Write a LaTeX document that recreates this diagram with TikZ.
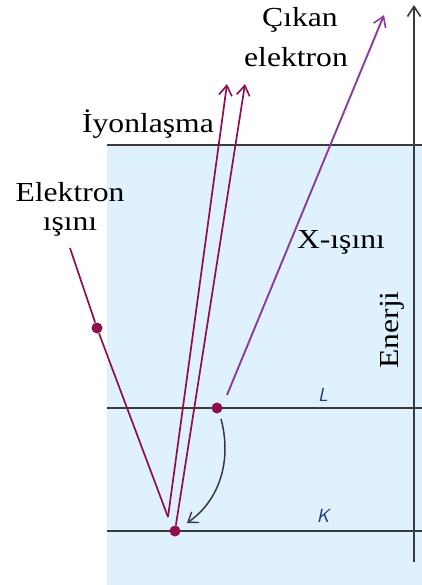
\documentclass[tikz,border=0pt]{standalone}
\usepackage{xcolor}
\usepackage{fontspec}
\setmainfont[FakeStretch=1.15]{Liberation Serif}
\usepackage{tikz}
\usetikzlibrary{arrows.meta}

\definecolor{bgblue}{HTML}{DFF1FC}
\definecolor{beam}{HTML}{8E0F4E}
\definecolor{xray}{HTML}{8A3C9C}
\definecolor{levelgray}{HTML}{3A3A3A}
\definecolor{shellblue}{HTML}{243C7C}

\tikzset{
  level/.style={levelgray, line width=1.8pt},
  label/.style={font=\fontsize{27.5}{34}\selectfont, align=center, inner sep=0pt},
  shell/.style={font=\sffamily\itshape\fontsize{19}{20}\selectfont, text=shellblue, inner sep=0pt},
  dot/.style={circle, fill=beam, inner sep=0pt, minimum size=11pt},
  tip/.style={-{Straight Barb[length=10pt, width=13pt, line width=1.6pt]}}
}

\begin{document}
\begin{tikzpicture}[x=1pt, y=-1pt]
  \useasboundingbox (0,0) rectangle (422,585);
  \fill[bgblue] (107,145) rectangle (422,585);

  % energy levels
  \coordinate (ionL) at (107,145);  \coordinate (ionR) at (422,145);
  \coordinate (lvlLL) at (107,408); \coordinate (lvlLR) at (422,408);
  \coordinate (lvlKL) at (107,531); \coordinate (lvlKR) at (422,531);
  \draw[level] (ionL) -- (ionR);
  \draw[level] (lvlLL) -- (lvlLR);
  \draw[level] (lvlKL) -- (lvlKR);

  % energy axis
  \coordinate (axisbot) at (414,562);
  \coordinate (axistop) at (414,5);
  \draw[level, tip] (axisbot) -- (axistop);
  \node[label, rotate=90] (enerji) at (392,330) {Enerji};

  \node[shell] (shellL) at (323,395) {L};
  \node[shell] (shellK) at (323,516) {K};

  % incoming beam
  \coordinate (beamstart) at (70,248);
  \coordinate (apex) at (168,517);
  \node[dot] (hit) at (97,328) {};
  \draw[beam, line width=1.7pt] (beamstart) -- (hit) -- (apex);

  % electrons
  \node[dot] (kdot) at (175,531) {};
  \node[dot] (ldot) at (217,408) {};
  \coordinate (out1) at (227,84);
  \coordinate (out2) at (245,84);
  \draw[beam, line width=1.7pt, tip] (apex) -- (out1);
  \draw[beam, line width=1.7pt, tip] (kdot) -- (out2);

  % x-ray
  \coordinate (xstart) at (227,395);
  \coordinate (xend) at (384,15);
  \draw[xray, line width=1.9pt, tip] (xstart) -- (xend);

  % transition L -> K
  \coordinate (trstart) at (221,419);
  \coordinate (trend) at (187,523);
  \draw[levelgray, line width=1.5pt, -{Straight Barb[length=9pt, width=13pt, line width=1.4pt]}]
    (trstart) .. controls (232,460) and (220,500) .. (trend);

  % labels
  \node[label] (cikan) at (300,20) {Çıkan};
  \node[label] (elektron) at (296,57) {elektron};
  \node[label] (iyon) at (148,124) {İyonlaşma};
  \node[label] (beamtop) at (70,192) {Elektron};
  \node[label] (beambot) at (70,227) {ışını};
  \node[label] (xlabel) at (341,242) {X-ışını};
\end{tikzpicture}
\end{document}
